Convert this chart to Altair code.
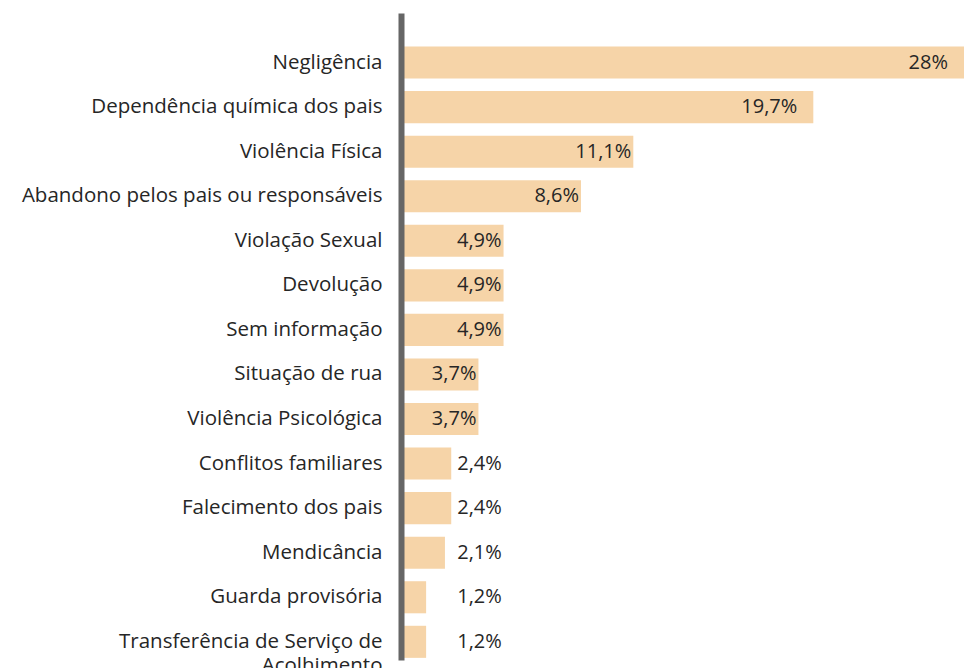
import altair as alt
import pandas as pd

categories = [
    "Negligência",
    "Dependência química dos pais",
    "Violência Física",
    "Abandono pelos pais ou responsáveis",
    "Violação Sexual",
    "Devolução",
    "Sem informação",
    "Situação de rua",
    "Violência Psicológica",
    "Conflitos familiares",
    "Falecimento dos pais",
    "Mendicância",
    "Guarda provisória",
    "Transferência de Serviço de\nAcolhimento",
]
values = [28, 19.7, 11.1, 8.6, 4.9, 4.9, 4.9, 3.7, 3.7, 2.4, 2.4, 2.1, 1.2, 1.2]

df = pd.DataFrame({"cat": categories, "value": values})

FONT = "Open Sans"
BAR = "#F6D4A8"
TXT = "#262626"

xscale = alt.Scale(domain=[0, 26.9], clamp=True, nice=False, zero=True)
yscale = alt.Scale(paddingInner=0.28, paddingOuter=0.4, align=0.94)

base = alt.Chart(df).transform_calculate(
    label="replace(format(datum.value, '.1~f'), '.', ',') + '%'",
    anchor="max(datum.value, 2.4)",
)

bars = base.mark_bar(color=BAR).encode(
    x=alt.X("value:Q", scale=xscale, axis=None),
    y=alt.Y(
        "cat:N",
        sort=categories,
        scale=yscale,
        title=None,
        axis=alt.Axis(
            domainColor="#666666",
            domainWidth=6,
            ticks=False,
            labelFont=FONT,
            labelFontSize=20.5,
            labelColor=TXT,
            labelPadding=19,
            labelLimit=0,
            labelExpr="split(datum.label, '\\n')",
            labelLineHeight=24,
            zindex=1,
        ),
    ),
)

text_common = dict(font=FONT, fontSize=20, color=TXT, baseline="middle")

big = base.transform_filter("datum.value >= 15").mark_text(
    align="right", dx=-16, **text_common
).encode(
    x=alt.X("value:Q", scale=xscale),
    y=alt.Y("cat:N", sort=categories, scale=yscale),
    text="label:N",
)

mid = base.transform_filter("datum.value >= 3 && datum.value < 15").mark_text(
    align="right", dx=-2, **text_common
).encode(
    x=alt.X("value:Q", scale=xscale),
    y=alt.Y("cat:N", sort=categories, scale=yscale),
    text="label:N",
)

small = base.transform_filter("datum.value < 3").mark_text(
    align="left", dx=6, **text_common
).encode(
    x=alt.X("anchor:Q", scale=xscale),
    y=alt.Y("cat:N", sort=categories, scale=yscale),
    text="label:N",
)

chart = (
    alt.layer(bars, big, mid, small)
    .properties(
        width=563,
        height=647,
        autosize=alt.AutoSizeParams(type="none"),
        padding={"left": 401, "top": 13, "right": 0, "bottom": 8},
    )
    .configure(background="white", view=alt.ViewConfig(stroke=None))
)

chart.save("out.html", embed_options={"renderer": "svg", "actions": False})
